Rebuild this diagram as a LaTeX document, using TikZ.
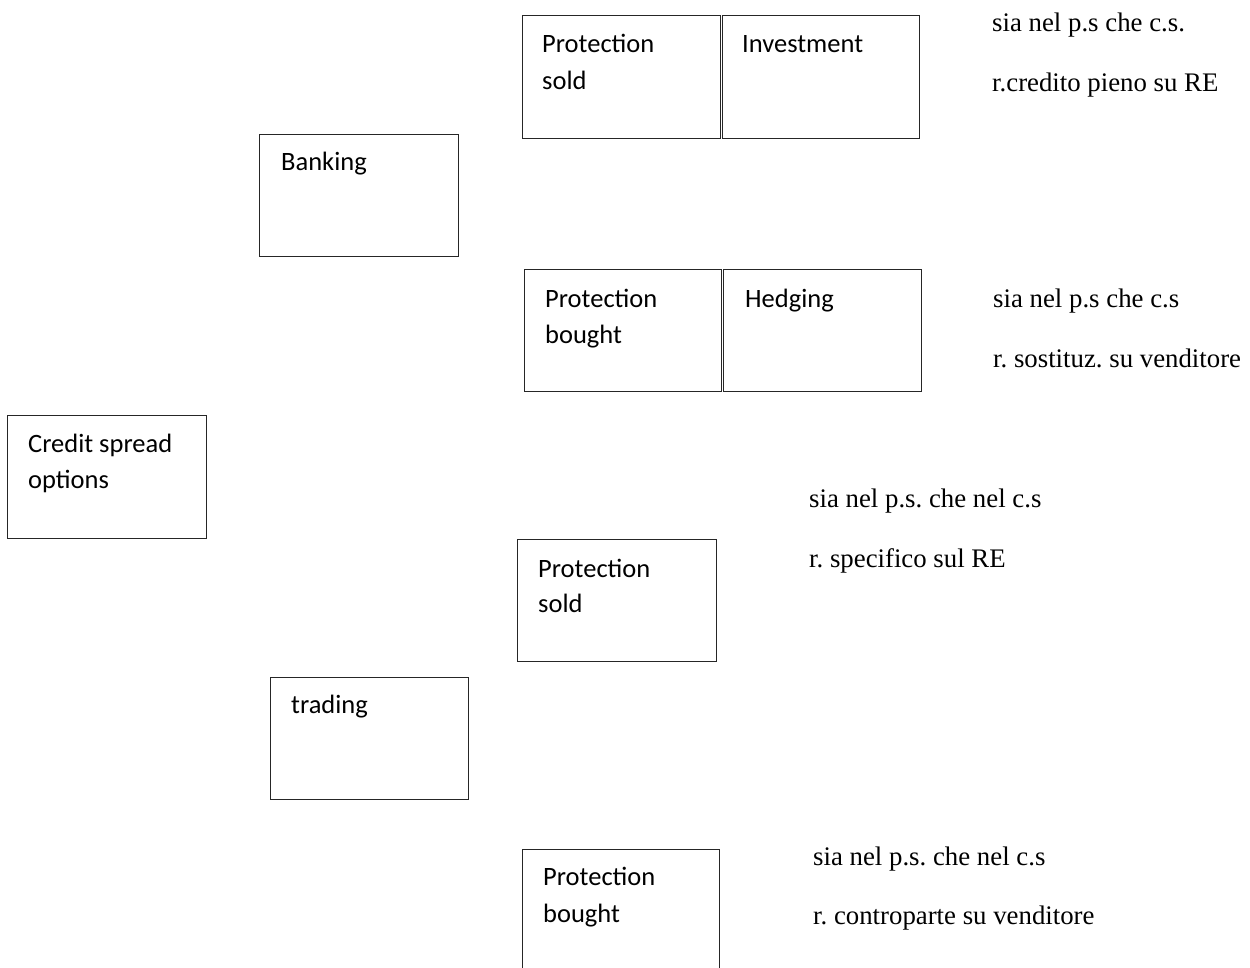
\documentclass[tikz,border=0pt]{standalone}
\usepackage{fontspec}
\newfontfamily\boxfont{Carlito}
\newfontfamily\notefont{Liberation Serif}
\frenchspacing
\begin{document}
\begin{tikzpicture}[x=1pt,y=-1pt,
  boxnode/.style={draw=black!85, line width=1.1pt, rectangle, anchor=north west,
    minimum width=198pt, minimum height=123pt, inner sep=0pt},
  boxtxt/.style={anchor=base west, inner sep=0pt, font=\boxfont\fontsize{26.5}{32}\selectfont, text=black},
  notetxt/.style={anchor=base west, inner sep=0pt, font=\notefont\fontsize{26.8}{32}\selectfont, text=black}]
\useasboundingbox (0,0) rectangle (1250,967);
% boxes
\node[boxnode] (psold1) at (522,15) {};
\node[boxnode, minimum width=197pt] (invest) at (722,15) {};
\node[boxnode, minimum width=199pt, minimum height=122pt] (banking) at (259,134) {};
\node[boxnode, minimum width=197pt, minimum height=122pt] (pbought1) at (524,269) {};
\node[boxnode, minimum width=198pt, minimum height=122pt] (hedging) at (723,269) {};
\node[boxnode, minimum width=199pt] (cso) at (7,415) {};
\node[boxnode, minimum width=199pt, minimum height=122pt] (psold2) at (517,539) {};
\node[boxnode, minimum width=198pt, minimum height=122pt] (trading) at (270,677) {};
\begin{scope}
\clip (0,0) rectangle (1250,967);
\node[boxnode, minimum width=197pt, minimum height=160pt] (pbought2) at (522,849) {};
\end{scope}
% box texts
\node[boxtxt] (t1a) at (542,52) {Protection};
\node[boxtxt] (t1b) at (542,89) {sold};
\node[boxtxt] (t2a) at (742,52) {Investment};
\node[boxtxt] (t3a) at (281,170) {Banking};
\node[boxtxt] (t4a) at (545,307) {Protection};
\node[boxtxt] (t4b) at (545,343) {bought};
\node[boxtxt] (t5a) at (745,307) {Hedging};
\node[boxtxt] (t6a) at (28,452) {Credit spread};
\node[boxtxt] (t6b) at (28,488) {options};
\node[boxtxt] (t7a) at (538,577) {Protection};
\node[boxtxt] (t7b) at (538,612) {sold};
\node[boxtxt] (t8a) at (291,713) {trading};
\node[boxtxt] (t9a) at (543,885) {Protection};
\node[boxtxt] (t9b) at (543,922) {bought};
% notes
\node[notetxt] (n1a) at (992,31) {sia nel p.s che c.s.};
\node[notetxt] (n1b) at (992,91) {r.credito pieno su RE};
\node[notetxt] (n2a) at (993,307) {sia nel p.s che c.s};
\node[notetxt] (n2b) at (993,367) {r. sostituz. su venditore};
\node[notetxt] (n3a) at (809,507) {sia nel p.s. che nel c.s};
\node[notetxt] (n3b) at (809,567) {r. specifico sul RE};
\node[notetxt] (n4a) at (813,865) {sia nel p.s. che nel c.s};
\node[notetxt] (n4b) at (813,924) {r. controparte su venditore};
\end{tikzpicture}
\end{document}
